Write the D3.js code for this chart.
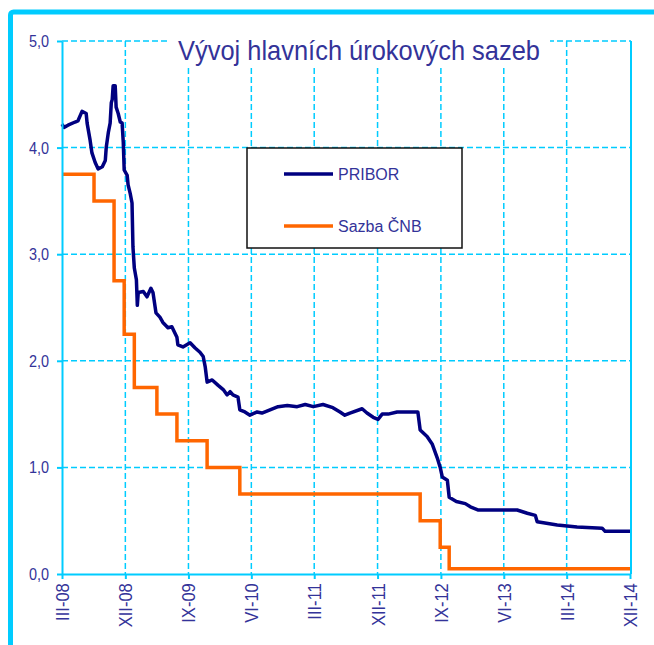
<!DOCTYPE html>
<html>
<head>
<meta charset="utf-8">
<script src="https://cdn.jsdelivr.net/npm/d3@7"></script>
<style>
    body { margin: 0; background: #fff; }
    text { font-family: "Liberation Sans", Arial, sans-serif; fill: #333399; }
</style>
</head>
<body>
<div id="chart"></div>
<script>
"use strict"

// values
const title = "Vývoj hlavních úrokových sazeb"
const seriesNames = ["PRIBOR", "Sazba ČNB"]
const yTicks = [0, 1, 2, 3, 4, 5]
const xTickDates = ["2008-03-01", "2008-12-01", "2009-09-01", "2010-06-01", "2011-03-01",
                    "2011-12-01", "2012-09-01", "2013-06-01", "2014-03-01", "2014-12-01"]
const xTickLabels = ["III-08", "XII-08", "IX-09", "VI-10", "III-11", "XII-11", "IX-12", "VI-13", "III-14", "XII-14"]

const priborDates = [
    "2008-03-01", "2008-03-10", "2008-03-27", "2008-04-27", "2008-05-09", "2008-05-27", "2008-06-14", "2008-06-18",
    "2008-07-01", "2008-07-09", "2008-07-23", "2008-08-05", "2008-08-23", "2008-09-05", "2008-09-09", "2008-09-18",
    "2008-09-26", "2008-10-01", "2008-10-05", "2008-10-09", "2008-10-18", "2008-10-22", "2008-10-31", "2008-11-09",
    "2008-11-17", "2008-11-22", "2008-11-26", "2008-12-09", "2008-12-13", "2008-12-22", "2008-12-30", "2009-01-03",
    "2009-01-09", "2009-01-18", "2009-01-22", "2009-01-26", "2009-02-17", "2009-03-05", "2009-03-22", "2009-03-31",
    "2009-04-13", "2009-04-30", "2009-05-13", "2009-06-04", "2009-06-21", "2009-07-13", "2009-07-17", "2009-08-08",
    "2009-09-08", "2009-09-30", "2009-10-21", "2009-11-04", "2009-11-13", "2009-11-21", "2009-12-13", "2010-01-08",
    "2010-01-30", "2010-02-16", "2010-03-01", "2010-03-13", "2010-04-04", "2010-04-12", "2010-05-04", "2010-05-26",
    "2010-06-26", "2010-07-17", "2010-08-21", "2010-09-25", "2010-11-04", "2010-12-17", "2011-01-21", "2011-02-25",
    "2011-04-08", "2011-05-21", "2011-06-21", "2011-07-12", "2011-08-03", "2011-09-25", "2011-10-16", "2011-11-12",
    "2011-12-03", "2011-12-21", "2012-01-16", "2012-02-24", "2012-05-24", "2012-06-03", "2012-07-03", "2012-07-25",
    "2012-08-16", "2012-08-29", "2012-09-07", "2012-09-29", "2012-10-07", "2012-11-07", "2012-12-16", "2013-01-07",
    "2013-02-11", "2013-07-29", "2013-09-11", "2013-10-16", "2013-10-24", "2013-11-20", "2014-01-19", "2014-04-15",
    "2014-08-02", "2014-08-15", "2014-12-01"]
const priborValues = [
    4.22, 4.19, 4.21, 4.24, 4.25, 4.34, 4.32, 4.23,
    4.07, 3.95, 3.86, 3.80, 3.82, 3.88, 4.00, 4.14,
    4.23, 4.42, 4.45, 4.58, 4.58, 4.38, 4.32, 4.24,
    4.23, 4.05, 3.79, 3.74, 3.65, 3.57, 3.48, 3.07,
    2.87, 2.76, 2.52, 2.64, 2.65, 2.60, 2.68, 2.64,
    2.45, 2.41, 2.36, 2.31, 2.32, 2.22, 2.15, 2.13,
    2.17, 2.12, 2.08, 2.04, 1.94, 1.80, 1.82, 1.77,
    1.73, 1.68, 1.71, 1.68, 1.66, 1.54, 1.52, 1.49,
    1.52, 1.51, 1.54, 1.57, 1.58, 1.57, 1.59, 1.57,
    1.59, 1.56, 1.52, 1.49, 1.51, 1.55, 1.51, 1.47,
    1.45, 1.50, 1.50, 1.52, 1.52, 1.35, 1.29, 1.22,
    1.09, 1.00, 0.91, 0.88, 0.72, 0.68, 0.66, 0.63,
    0.60, 0.60, 0.57, 0.55, 0.49, 0.48, 0.46, 0.44,
    0.43, 0.40, 0.40]

const cnbDates = ["2008-03-01", "2008-07-18", "2008-10-13", "2008-11-26", "2009-01-09", "2009-04-17",
                  "2009-07-13", "2009-11-21", "2010-04-12", "2012-06-03", "2012-08-29", "2012-10-07", "2014-12-01"]
const cnbValues = [3.75, 3.50, 2.75, 2.25, 1.75, 1.50, 1.25, 1.00, 0.75, 0.50, 0.25, 0.05, 0.05]

const rateChart = (function() {

    function draw(id, opts = { w: 654, h: 645 }) {
        let chart = Object.assign({ targetId: id }, opts)
        chart.frame = { l: 62, r: 631, t: 41, b: 574 }

        const parse = d3.utcParse("%Y-%m-%d")
        const pribor = priborDates.map((d, i) => ({ date: parse(d), value: priborValues[i] }))
        const cnb = cnbDates.map((d, i) => ({ date: parse(d), value: cnbValues[i] }))
        const tickDates = xTickDates.map(parse)

        const x = d3.scaleUtc()
                    .domain([tickDates[0], tickDates[tickDates.length - 1]])
                    .range([chart.frame.l, chart.frame.r - 1])
        const y = d3.scaleLinear()
                    .domain([0, 5])
                    .range([chart.frame.b, chart.frame.t])

        let svg = d3.select(chart.targetId)
                    .append("svg")
                        .attr("width", chart.w)
                        .attr("height", chart.h)
                        .attr("viewBox", `0 0 ${ chart.w } ${ chart.h }`)

        const cyan = "#00ccff"
        const dash = "6,3"

        // outer cyan frame (runs off the right and bottom edges)
        svg.append("rect")
            .attr("x", 10.5).attr("y", 12)
            .attr("width", chart.w + 20).attr("height", chart.h + 20)
            .attr("rx", 3)
            .attr("fill", "#fff")
            .attr("stroke", cyan)
            .attr("stroke-width", 5)

        // horizontal gridlines
        svg.selectAll(".hgrid")
            .data(yTicks.slice(1))
            .enter().append("line")
                .attr("class", "hgrid")
                .attr("x1", chart.frame.l).attr("x2", chart.frame.r)
                .attr("y1", d => y(d)).attr("y2", d => y(d))
                .attr("stroke", cyan)
                .attr("stroke-width", 1.5)
                .attr("stroke-dasharray", dash)

        // vertical gridlines
        svg.selectAll(".vgrid")
            .data(tickDates.slice(1, -1))
            .enter().append("line")
                .attr("class", "vgrid")
                .attr("x1", d => x(d)).attr("x2", d => x(d))
                .attr("y1", chart.frame.t).attr("y2", chart.frame.b)
                .attr("stroke", cyan)
                .attr("stroke-width", 1.5)
                .attr("stroke-dasharray", dash)

        // right border
        svg.append("line")
            .attr("x1", chart.frame.r).attr("x2", chart.frame.r)
            .attr("y1", chart.frame.t).attr("y2", chart.frame.b)
            .attr("stroke", cyan)
            .attr("stroke-width", 2)

        // title with white box over the grid
        svg.append("rect")
            .attr("x", 168).attr("y", 30)
            .attr("width", 382).attr("height", 38)
            .attr("fill", "#fff")
        svg.append("text")
            .text(title)
            .attr("x", 178)
            .attr("y", 60)
            .attr("textLength", 362)
            .attr("lengthAdjust", "spacingAndGlyphs")
            .style("font-size", "28px")

        // series
        svg.append("path")
            .datum(cnb)
            .attr("d", d3.line().x(d => x(d.date)).y(d => y(d.value)).curve(d3.curveStepAfter))
            .attr("fill", "none")
            .attr("stroke", "#ff6600")
            .attr("stroke-width", 3.5)
        svg.append("path")
            .datum(pribor)
            .attr("d", d3.line().x(d => x(d.date)).y(d => y(d.value)))
            .attr("fill", "none")
            .attr("stroke", "#000080")
            .attr("stroke-width", 3.5)
            .attr("stroke-linejoin", "round")

        // axes
        const labelMap = new Map(tickDates.map((d, i) => [+d, xTickLabels[i]]))
        let axes = {
            x: d3.axisBottom(x)
                    .tickValues(tickDates)
                    .tickFormat(d => labelMap.get(+d))
                    .tickSize(5)
                    .tickSizeOuter(0),
            y: d3.axisLeft(y)
                    .tickValues(yTicks)
                    .tickFormat(d => d3.format(".1f")(d).replace(".", ","))
                    .tickSize(5)
                    .tickSizeOuter(0)
        }

        let gx = svg.append("g")
            .attr("class", "axis x-axis")
            .attr("transform", `translate(0, ${ chart.frame.b })`)
            .call(axes.x)
        gx.selectAll("text")
            .attr("transform", "rotate(-90) scale(0.92, 1)")
            .attr("text-anchor", "end")
            .attr("x", -10)
            .attr("y", 0)
            .attr("dy", "0.36em")
            .style("font-size", "18px")

        let gy = svg.append("g")
            .attr("class", "axis y-axis")
            .attr("transform", `translate(${ chart.frame.l }, 0)`)
            .call(axes.y)
        gy.selectAll("text")
            .attr("transform", "scale(0.85, 1)")
            .attr("x", -13 / 0.85)
            .style("font-size", "17px")

        svg.selectAll(".axis path, .axis line")
            .attr("stroke", cyan)
            .attr("stroke-width", 2)

        // legend
        let legend = svg.append("g").attr("class", "legend")
        legend.append("rect")
            .attr("x", 247).attr("y", 148)
            .attr("width", 215).attr("height", 100)
            .attr("fill", "#fff")
            .attr("stroke", "#111")
            .attr("stroke-width", 1.5)
        const legendColors = ["#000080", "#ff6600"]
        seriesNames.forEach((name, i) => {
            const ly = 174 + i * 52
            legend.append("line")
                .attr("x1", 284).attr("x2", 333)
                .attr("y1", ly).attr("y2", ly)
                .attr("stroke", legendColors[i])
                .attr("stroke-width", 3.5)
            legend.append("text")
                .text(name)
                .attr("x", 338)
                .attr("y", ly + 6)
                .style("font-size", "16px")
        })
    }

    return { draw: draw }
}())

rateChart.draw("#chart")
</script>
</body>
</html>
